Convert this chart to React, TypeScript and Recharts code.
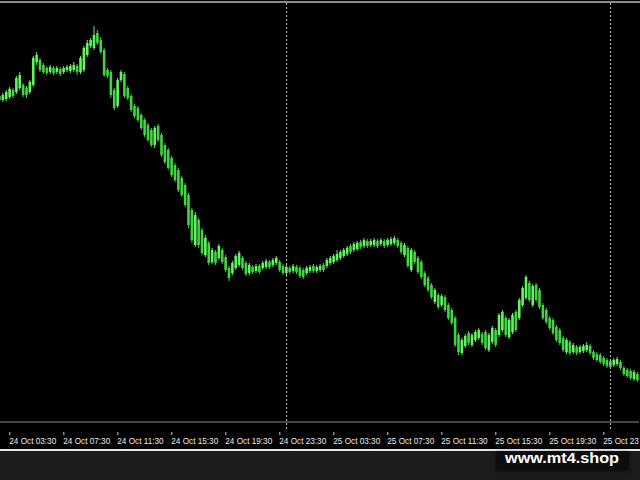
import { Bar, BarChart, ReferenceLine, XAxis, YAxis } from "recharts"

// M15 candles, [open, high, low, close] in price points (chart has no price scale visible)
const oct24: number[][] = [
  [324, 326, 317, 320], [320, 327, 318, 325], [321, 330, 319, 328], [323, 333, 321, 331],
  [330, 332, 322, 324], [328, 344, 326, 342], [332, 348, 330, 345], [335, 337, 323, 325],
  [332, 334, 322, 325], [328, 340, 326, 338], [335, 364, 333, 362], [358, 368, 355, 365],
  [360, 362, 348, 350], [355, 357, 346, 348], [352, 354, 345, 347], [348, 355, 346, 353],
  [352, 354, 345, 347], [348, 354, 346, 352], [351, 353, 344, 346], [348, 354, 346, 352],
  [350, 355, 348, 353], [349, 356, 347, 354], [350, 358, 348, 355], [354, 356, 345, 348],
  [348, 364, 346, 362], [350, 374, 348, 372], [365, 380, 363, 377], [374, 382, 372, 380],
  [372, 394, 370, 385], [387, 390, 375, 377], [380, 383, 366, 368], [370, 372, 343, 345],
  [350, 352, 342, 344], [348, 350, 322, 325], [330, 332, 310, 312], [314, 342, 312, 340],
  [340, 350, 338, 348], [346, 348, 322, 324], [332, 334, 320, 322], [324, 326, 308, 310],
  [314, 316, 302, 304], [312, 314, 298, 300], [305, 307, 290, 292], [300, 302, 283, 285],
  [295, 297, 278, 280], [290, 292, 273, 275], [275, 294, 272, 292], [294, 296, 278, 280],
  [285, 287, 263, 265], [275, 277, 256, 258], [270, 272, 250, 252], [262, 264, 243, 245],
  [255, 257, 238, 240], [250, 252, 228, 230], [242, 244, 223, 225], [235, 237, 213, 215],
  [225, 227, 192, 195], [210, 212, 177, 180], [175, 208, 173, 205], [200, 202, 172, 175],
  [190, 192, 165, 167], [165, 185, 163, 182], [177, 179, 155, 157], [158, 172, 156, 170],
  [168, 170, 155, 157], [162, 176, 160, 174], [170, 172, 156, 158], [163, 165, 148, 150],
  [152, 154, 139, 142], [147, 159, 145, 157], [152, 166, 150, 164], [155, 169, 153, 167],
  [162, 164, 150, 152], [157, 159, 144, 146], [147, 157, 145, 155], [153, 155, 146, 148],
  [149, 156, 147, 154], [154, 156, 146, 148], [152, 159, 150, 157], [153, 161, 151, 159],
  [158, 160, 151, 153], [155, 162, 153, 160], [157, 164, 155, 162], [158, 160, 148, 150],
  [154, 156, 145, 147],
]

const oct25: number[][] = [
  [147, 155, 145, 153], [152, 154, 146, 148], [149, 156, 147, 154], [153, 155, 146, 148],
  [152, 154, 142, 144], [150, 152, 141, 143], [147, 154, 145, 152], [149, 155, 147, 153],
  [154, 156, 147, 149], [149, 155, 147, 153], [150, 156, 148, 154], [155, 157, 148, 150],
  [154, 162, 152, 160], [157, 164, 155, 162], [158, 166, 156, 164], [160, 170, 158, 166],
  [162, 170, 160, 168], [164, 172, 162, 170], [166, 174, 164, 172], [174, 176, 166, 168],
  [170, 178, 168, 176], [171, 179, 169, 177], [178, 180, 171, 173], [174, 182, 172, 180],
  [179, 181, 172, 174], [175, 181, 173, 179], [175, 182, 173, 180], [179, 181, 172, 174],
  [176, 182, 174, 180], [179, 181, 172, 174], [175, 182, 173, 180], [176, 183, 174, 181],
  [177, 184, 175, 182], [180, 182, 172, 174], [177, 179, 166, 168], [165, 177, 163, 175],
  [172, 174, 152, 154], [150, 172, 148, 170], [168, 170, 156, 158], [162, 164, 146, 148],
  [158, 160, 141, 143], [147, 149, 133, 135], [142, 144, 128, 130], [135, 137, 121, 123],
  [118, 132, 116, 130], [125, 127, 111, 113], [115, 126, 113, 124], [123, 125, 108, 110],
  [115, 117, 100, 102], [110, 112, 95, 97], [102, 104, 73, 75], [85, 87, 65, 68],
  [67, 82, 65, 80], [74, 86, 72, 84], [87, 89, 75, 77], [75, 87, 73, 85],
  [80, 90, 78, 88], [82, 92, 80, 90], [86, 88, 75, 77], [88, 90, 70, 72],
  [70, 87, 68, 85], [78, 94, 76, 92], [90, 92, 73, 75], [85, 107, 83, 105],
  [90, 110, 88, 108], [102, 104, 83, 85], [83, 102, 81, 100], [88, 107, 86, 105],
  [108, 110, 88, 90], [102, 122, 100, 120], [115, 134, 113, 132], [122, 145, 120, 143],
  [137, 139, 118, 120], [115, 136, 113, 134], [135, 137, 118, 120], [130, 132, 111, 113],
  [115, 117, 100, 102], [110, 112, 96, 98], [102, 104, 90, 92], [100, 102, 85, 87],
  [93, 95, 78, 80], [90, 92, 75, 77], [82, 84, 68, 70], [68, 82, 66, 80],
  [78, 80, 65, 67], [68, 77, 66, 75], [73, 75, 65, 67], [68, 75, 66, 73],
  [69, 76, 67, 74], [70, 78, 68, 75], [74, 76, 65, 67], [68, 70, 60, 62],
  [66, 68, 58, 60], [65, 67, 56, 58], [62, 64, 54, 56], [60, 62, 52, 54],
]

const oct26: number[][] = [
  [59, 61, 51, 53], [55, 62, 53, 60], [56, 63, 54, 61], [58, 60, 50, 52],
  [52, 54, 44, 46], [50, 52, 42, 44], [49, 51, 40, 42], [41, 50, 39, 48],
  [46, 48, 38, 40],
]

const tickLabels = [
  "24 Oct 03:30", "24 Oct 07:30", "24 Oct 11:30", "24 Oct 15:30", "24 Oct 19:30", "24 Oct 23:30",
  "25 Oct 03:30", "25 Oct 07:30", "25 Oct 11:30", "25 Oct 15:30", "25 Oct 19:30", "25 Oct 23:30",
]

const separators = ["25 Oct 00:00", "26 Oct 00:00"]

const pad = (n: number) => String(n).padStart(2, "0")

const days: [string, number, number[][]][] = [
  ["24 Oct", 2 * 60 + 45, oct24],
  ["25 Oct", 0, oct25],
  ["26 Oct", 0, oct26],
]

const data = days.flatMap(([day, start, rows]) =>
  rows.map(([open, high, low, close], j) => {
    const m = start + j * 15
    return {
      t: `${day} ${pad(Math.floor(m / 60))}:${pad(m % 60)}`,
      open,
      high,
      low,
      close,
    }
  })
)

const BULL = "#62f562"
const BEAR = "#42d442"

function Candle(props: any) {
  const { x, y, width, height, payload } = props
  const { open, high, low, close } = payload
  const top = Math.min(y, y + height)
  const h = Math.abs(height)
  const ppu = h / (high - low)
  const cx = x + width / 2
  const bodyTop = top + (high - Math.max(open, close)) * ppu
  const bodyH = Math.max(1.5, Math.abs(open - close) * ppu)
  const color = close >= open ? BULL : BEAR
  const bw = 2.6
  return (
    <g>
      <line x1={cx} x2={cx} y1={top} y2={top + h} stroke={color} strokeWidth={1} />
      <rect x={cx - bw / 2} y={bodyTop} width={bw} height={bodyH} fill={color} />
    </g>
  )
}

function TimeTick(props: any) {
  const { x, y, payload } = props
  return (
    <g>
      <line x1={x} x2={x} y1={y + 10} y2={y + 13} stroke="#d0d0d0" strokeWidth={1} />
      <text
        x={x - 0.5}
        y={y + 22}
        textAnchor="start"
        fill="#ececec"
        fontSize={8.2}
        fontFamily="'Liberation Sans', Arial, sans-serif"
      >
        {payload.value}
      </text>
    </g>
  )
}

function SeparatorLine(props: any) {
  const { x1, y1, x2, y2 } = props
  return (
    <line
      x1={x1}
      y1={Math.min(y1, y2)}
      x2={x2}
      y2={Math.max(y1, y2) + 8}
      stroke="#c4c4c4"
      strokeWidth={1}
      strokeDasharray="2 2"
    />
  )
}

export default function App() {
  return (
    <div
      style={{
        position: "fixed",
        left: 0,
        top: 0,
        width: 640,
        height: 480,
        background: "#1c1c1c",
        overflow: "hidden",
      }}
    >
      <div style={{ position: "absolute", left: 0, top: 0, width: 640, height: 449, background: "#000" }} />
      <div style={{ position: "absolute", left: 0, top: 1, width: 640, height: 2, background: "#8c8c8c" }} />
      <div style={{ position: "absolute", left: 0, top: 449, width: 640, height: 2, background: "#e6e6e6" }} />
      <div style={{ position: "absolute", left: -1.81, top: 0 }}>
        <BarChart
          width={641.25}
          height={450}
          data={data}
          margin={{ top: 3, right: 0, bottom: 0, left: 0 }}
          barCategoryGap={0}
        >
          <XAxis
            dataKey="t"
            ticks={tickLabels}
            interval={0}
            height={28}
            tickSize={0}
            tickMargin={0}
            tickLine={false}
            axisLine={{ stroke: "#8a8a8a" }}
            tick={<TimeTick />}
          />
          <YAxis hide domain={[-2, 417]} />
          {separators.map((s) => (
            <ReferenceLine key={s} x={s} stroke="#c4c4c4" strokeDasharray="2 2" shape={SeparatorLine} />
          ))}
          <Bar
            dataKey={(d: any) => [d.low, d.high]}
            shape={<Candle />}
            isAnimationActive={false}
          />
        </BarChart>
      </div>
      <div
        style={{
          position: "absolute",
          left: 496,
          top: 451,
          width: 133,
          height: 19,
          background: "#0d0d0d",
          boxShadow: "0 1px 3px rgba(0,0,0,0.6)",
        }}
      >
        <svg width={133} height={19}>
          <text
            x={9}
            y={11.5}
            fill="#ffffff"
            fontSize={15}
            fontWeight="bold"
            fontFamily="'Liberation Sans', Arial, sans-serif"
            textLength={114}
            lengthAdjust="spacingAndGlyphs"
          >
            www.mt4.shop
          </text>
        </svg>
      </div>
    </div>
  )
}
